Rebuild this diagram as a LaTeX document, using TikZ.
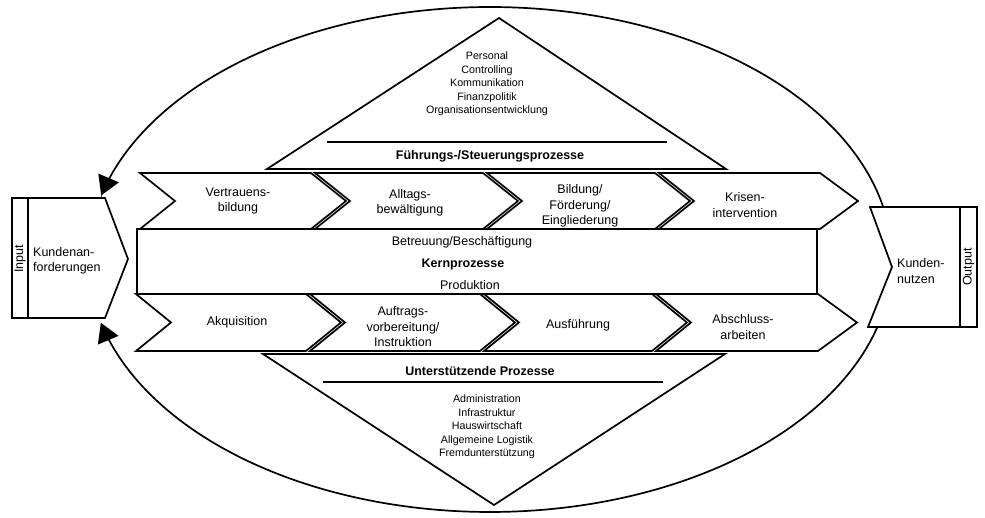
\documentclass[tikz,border=0pt]{standalone}
\usepackage{fontspec}
\setmainfont{Liberation Sans}
\usetikzlibrary{arrows.meta}
\begin{document}
\begin{tikzpicture}[x=1pt,y=-1pt,
  shp/.style={draw,line width=1.7pt,fill=white,line join=miter},
  lbl/.style={align=center,font=\fontsize{12.5}{15.5}\selectfont,inner sep=0pt},
  sml/.style={align=center,font=\fontsize{10.7}{13.4}\selectfont,inner sep=0pt},
  hdr/.style={font=\fontsize{12.5}{15}\selectfont\bfseries,inner sep=0pt},
  sep/.style={line width=1.7pt},
  cyc/.style={line width=1.7pt,-{Triangle[length=19pt,width=22pt]}}]
\useasboundingbox (0,0) rectangle (985,518);
% surrounding cycle (two arcs from output to input)
\draw[cyc] plot[domain=-12:-165.3,samples=120,smooth] ({490+402*cos(\x)},{259.5+252.5*sin(\x)});
\draw[cyc] plot[domain=15.7:165.5,samples=120,smooth] ({490+402*cos(\x)},{259.5+252.5*sin(\x)});
% triangles
\draw[shp] (267,169) -- (499,18) -- (726,169) -- cycle;
\draw[shp] (263,354) -- (725,354) -- (494,505) -- cycle;
% top row chevrons
\draw[shp] (140,173) -- (311,173) -- (346,201) -- (311,229) -- (140,229) -- (175,201) -- cycle;
\draw[shp] (315,173) -- (483,173) -- (518,201) -- (483,229) -- (315,229) -- (350,201) -- cycle;
\draw[shp] (487,173) -- (655,173) -- (690,201) -- (655,229) -- (487,229) -- (522,201) -- cycle;
\draw[shp] (659,173) -- (820,173) -- (858,201) -- (820,229) -- (659,229) -- (694,201) -- cycle;
% bottom row chevrons
\draw[shp] (136,294) -- (306,294) -- (341,322.5) -- (306,351) -- (136,351) -- (171,322.5) -- cycle;
\draw[shp] (310,294) -- (480,294) -- (515,322.5) -- (480,351) -- (310,351) -- (345,322.5) -- cycle;
\draw[shp] (484,294) -- (652,294) -- (687,322.5) -- (652,351) -- (484,351) -- (519,322.5) -- cycle;
\draw[shp] (656,294) -- (818,294) -- (857,322.5) -- (818,351) -- (656,351) -- (691,322.5) -- cycle;
% core bar
\draw[shp] (137,229) rectangle (817,294);
% input
\draw[shp] (12,198) -- (105,198) -- (128,259) -- (105,318) -- (12,318) -- cycle;
\draw[sep] (28,198) -- (28,318);
\node[lbl,rotate=90] (inl) at (20,259) {Input};
\node[lbl,align=left,anchor=west] (inp) at (33,261) {Kundenan-\\forderungen};
% output
\draw[shp] (870,207) -- (977,207) -- (977,327) -- (868,327) -- (892,267) -- cycle;
\draw[sep] (960,207) -- (960,327);
\node[lbl,rotate=90] (outl) at (968.5,267) {Output};
\node[lbl,align=left,anchor=west] (outp) at (897,271) {Kunden-\\nutzen};
% texts
\node[lbl] (v1) at (238,201) {Vertrauens-\\bildung};
\node[lbl] (v2) at (410,203) {Alltags-\\bewältigung};
\node[lbl] (v3) at (580,206) {Bildung/\\Förderung/\\Eingliederung};
\node[lbl] (v4) at (745,205) {Krisen-\\intervention};
\node[lbl] (k1) at (462,242) {Betreuung/Beschäftigung};
\node[hdr] (k2) at (463,264) {Kernprozesse};
\node[lbl] (k3) at (470,285) {Produktion};
\node[lbl] (u1) at (237,322) {Akquisition};
\node[lbl] (u2) at (403,327) {Auftrags-\\vorbereitung/\\Instruktion};
\node[lbl] (u3) at (578,325) {Ausführung};
\node[lbl] (u4) at (743,327) {Abschluss-\\arbeiten};
% top triangle
\node[sml] (f1) at (487,84) {Personal\\Controlling\\Kommunikation\\Finanzpolitik\\Organisationsentwicklung};
\draw[sep] (327,142) -- (667,142);
\node[hdr] (f0) at (490,156) {Führungs-/Steuerungsprozesse};
% bottom triangle
\node[hdr] (s0) at (480,371) {Unterstützende Prozesse};
\draw[sep] (323,382) -- (663,382);
\node[sml] (s1) at (487,427) {Administration\\Infrastruktur\\Hauswirtschaft\\Allgemeine Logistik\\Fremdunterstützung};
\end{tikzpicture}
\end{document}
